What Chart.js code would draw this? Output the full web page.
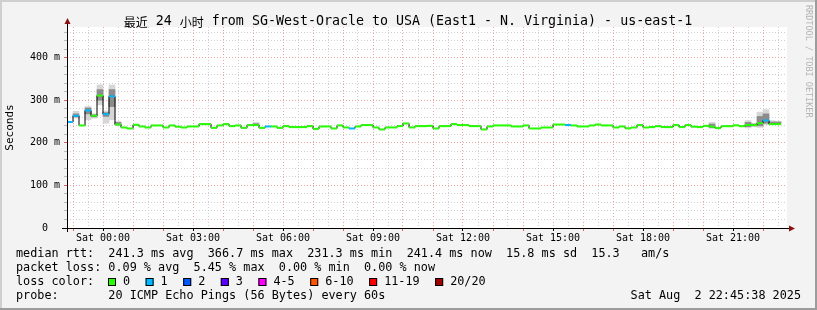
<!DOCTYPE html>
<html>
<head>
<meta charset="utf-8">
<script src="https://cdn.jsdelivr.net/npm/chart.js@4.4.0/dist/chart.umd.min.js"></script>
<style>
  html, body { margin: 0; padding: 0; background: #f3f3f3; }
  canvas { display: block; }
</style>
</head>
<body>
<canvas id="smoke" width="817" height="310"></canvas>
<script>
// time axis: hours relative to Sat 00:00, one median every 12 minutes
const startHour = -1.2;          // Fri 22:48
const stepHours = 0.2;

// median rtt per step (ms)
const medianMs = [
  249.0, 263.5, 240.8, 276.0, 263.5, 311.0, 267.4, 309.0, 243.0, 236.0,
  233.7, 242.4, 238.4, 236.0, 240.8, 240.8, 236.0, 240.8, 238.0, 236.0,
  238.4, 238.4, 243.9, 243.9, 235.3, 240.8, 243.9, 239.2, 240.8, 235.3,
  241.6, 241.6, 235.3, 238.4, 238.4, 235.3, 239.2, 236.9, 236.9, 236.9,
  239.2, 232.9, 238.4, 238.4, 233.7, 240.8, 236.1, 233.7, 238.4, 241.6,
  241.6, 236.1, 231.4, 236.1, 236.1, 239.2, 245.5, 236.1, 239.2, 239.2,
  240.0, 233.7, 239.2, 239.2, 243.9, 241.6, 241.6, 239.2, 239.2, 231.4,
  238.4, 240.8, 240.8, 240.8, 238.4, 238.4, 240.8, 233.7, 233.7, 236.0,
  236.0, 243.0, 243.0, 241.6, 240.8, 238.4, 238.4, 240.8, 243.0, 240.8,
  240.8, 236.0, 238.4, 234.0, 236.0, 241.6, 236.0, 236.9, 239.0, 236.9,
  236.9, 241.6, 236.9, 241.6, 238.0, 236.9, 240.0, 238.0, 234.5, 239.0,
  239.0, 241.0, 239.0, 242.0, 241.6, 246.0, 252.5, 243.9, 243.9
];
const spikeMs = 366.7;           // step just before the graph starts
const spikeLoss = 1;

// steps that lost pings (out of 20)
const lossSteps  = [0, 1, 3, 6, 7, 33, 47, 83, 116];
const lossCounts = [1, 1, 1, 1, 1, 1, 1, 1, 1];

// smoke (spread of the 20 pings) where it is visible
const smokeSteps = [1, 3, 4, 5, 6, 7, 8, 31, 107, 113, 114, 115, 116, 117, 118];
const smokeLo    = [258, 254, 258, 289, 246, 254, 241, 241, 234, 235, 238, 236, 243, 243, 245];
const smokeHi    = [274, 285, 268, 336, 275, 336, 250, 248, 248, 252, 246, 272, 278, 252, 250];
const coreLo     = [261, 268, 261, 300, 262, 285, 242, 241, 236, 238, 240, 240, 246, 244, 246];
const coreHi     = [268, 282, 266, 325, 271, 325, 248, 245, 244, 248, 244, 262, 268, 249, 249];

const lossLabels = ['0', '1', '2', '3', '4-5', '6-10', '11-19', '20/20'];
const lossColors = ['#26ff00', '#00b8ff', '#0059ff', '#5e00ff', '#ff00fe', '#ff5500', '#ff0000', '#a10000'];

const xLabelHours = [0, 3, 6, 9, 12, 15, 18, 21];
const xLabels = ['Sat 00:00', 'Sat 03:00', 'Sat 06:00', 'Sat 09:00', 'Sat 12:00', 'Sat 15:00', 'Sat 18:00', 'Sat 21:00'];
const yLabelValues = [0, 100, 200, 300, 400];
const yLabels = ['0  ', '100 m', '200 m', '300 m', '400 m'];
const yMax = 472;

const title = '最近 24 小时 from SG-West-Oracle to USA (East1 - N. Virginia) - us-east-1';
const statRows = [
  'median rtt:  241.3 ms avg  366.7 ms max  231.3 ms min  241.4 ms now  15.8 ms sd  15.3   am/s',
  'packet loss: 0.09 % avg  5.45 % max  0.00 % min  0.00 % now'
];
const probeText = 'probe:       20 ICMP Echo Pings (56 Bytes) every 60s';
const stampText = 'Sat Aug  2 22:45:38 2025';
const mono = '"DejaVu Sans Mono", monospace';

function bucket(n) {
  if (n <= 3) return n;
  if (n <= 5) return 4;
  if (n <= 10) return 5;
  if (n <= 19) return 6;
  return 7;
}
const lossOf = k => {
  if (k < 0) return spikeLoss;
  const i = lossSteps.indexOf(k);
  return i < 0 ? 0 : lossCounts[i];
};
const t = k => startHour + k * stepHours;

// black stepped median (gives the vertical joins)
const stepLine = [{ x: t(-1), y: spikeMs }];
medianMs.forEach((v, k) => stepLine.push({ x: t(k), y: v }));
stepLine.push({ x: t(medianMs.length), y: medianMs[medianMs.length - 1] });

// coloured horizontal pieces, one per step
const colorSteps = [-1, ...medianMs.map((v, k) => k)];
const colorLine = [];
colorSteps.forEach(k => {
  const v = k < 0 ? spikeMs : medianMs[k];
  colorLine.push({ x: t(k), y: v }, { x: t(k + 1), y: v }, { x: t(k + 1), y: null });
});

const smokeOuter = smokeSteps.map((k, i) => ({ x: t(k) + stepHours / 2, y: [smokeLo[i], smokeHi[i]] }));
const smokeInner = smokeSteps.map((k, i) => ({ x: t(k) + stepHours / 2, y: [coreLo[i], coreHi[i]] }));

const xGrid = [];
for (let i = -2; i <= 46; i++) if (i / 2 >= startHour && i / 2 <= startHour + 24) xGrid.push(i / 2);
const yGrid = [];
for (let v = 0; v < yMax; v += 20) yGrid.push(v);

const frame = {
  id: 'frame',
  beforeDraw(chart) {
    const { ctx, chartArea: a } = chart;
    ctx.save();
    ctx.fillStyle = '#f3f3f3';
    ctx.fillRect(0, 0, chart.width, chart.height);
    ctx.fillStyle = '#cfcfcf';
    ctx.fillRect(0, 0, chart.width, 2);
    ctx.fillRect(0, 0, 2, chart.height);
    ctx.fillStyle = '#9c9c9c';
    ctx.fillRect(0, chart.height - 2, chart.width, 2);
    ctx.fillRect(chart.width - 2, 0, 2, chart.height);
    ctx.fillStyle = '#ffffff';
    ctx.fillRect(a.left, a.top, a.right - a.left, a.bottom - a.top);
    ctx.restore();
  },
  afterDraw(chart) {
    const { ctx, chartArea: a } = chart;
    ctx.save();
    // axes with arrows
    ctx.strokeStyle = '#000';
    ctx.lineWidth = 1;
    ctx.beginPath();
    ctx.moveTo(a.left - 5, a.bottom + 0.5);
    ctx.lineTo(a.right + 3, a.bottom + 0.5);
    ctx.moveTo(a.left + 0.5, a.bottom + 4);
    ctx.lineTo(a.left + 0.5, a.top - 4);
    ctx.stroke();
    ctx.fillStyle = '#8b1010';
    ctx.beginPath();
    ctx.moveTo(a.right + 8, a.bottom + 0.5);
    ctx.lineTo(a.right + 2, a.bottom - 2.5);
    ctx.lineTo(a.right + 2, a.bottom + 3.5);
    ctx.fill();
    ctx.beginPath();
    ctx.moveTo(a.left + 0.5, a.top - 9);
    ctx.lineTo(a.left - 2.5, a.top - 3);
    ctx.lineTo(a.left + 3.5, a.top - 3);
    ctx.fill();

    // title, CJK runs in a CJK font
    ctx.fillStyle = '#000';
    ctx.textBaseline = 'middle';
    const runs = title.split(/([\u4e00-\u9fff]+)/).filter(Boolean);
    const fontFor = r => /[\u4e00-\u9fff]/.test(r) ? '12px "Noto Sans CJK SC"' : '13.3px ' + mono;
    let w = 0;
    runs.forEach(r => { ctx.font = fontFor(r); w += ctx.measureText(r).width; });
    let x = 408 - w / 2;
    ctx.textAlign = 'left';
    runs.forEach(r => { ctx.font = fontFor(r); ctx.fillText(r, x, 22); x += ctx.measureText(r).width; });

    // stats
    ctx.font = '11.8px ' + mono;
    statRows.forEach((row, i) => ctx.fillText(row, 16, 254 + i * 14));
    ctx.fillText('loss color:', 16, 282);
    let sx = 108;
    lossLabels.forEach((lab, i) => {
      ctx.fillStyle = lossColors[i];
      ctx.fillRect(sx, 278, 8, 8);
      ctx.strokeStyle = '#000';
      ctx.strokeRect(sx + 0.5, 278.5, 7, 7);
      ctx.fillStyle = '#000';
      ctx.fillText(lab, sx + 15, 282);
      sx += 15 + ctx.measureText(lab).width + 15.5;
    });
    ctx.fillText(probeText, 16, 296);
    ctx.textAlign = 'right';
    ctx.fillText(stampText, 801, 296);

    // rrdtool watermark
    ctx.translate(808, 5);
    ctx.rotate(Math.PI / 2);
    ctx.textAlign = 'left';
    ctx.font = '8.5px ' + mono;
    ctx.fillStyle = '#b4b4b4';
    ctx.fillText('RRDTOOL / TOBI OETIKER', 0, 0);
    ctx.restore();
  }
};

const majorGrid = '#eaa3a3';
const minorGrid = '#cfcfcf';

new Chart(document.getElementById('smoke'), {
  type: 'line',
  data: {
    datasets: [
      {
        type: 'bar', data: smokeOuter, backgroundColor: '#d6d6d6', borderWidth: 0,
        barPercentage: 1, categoryPercentage: 1, grouped: false, order: 4
      },
      {
        type: 'bar', data: smokeInner, backgroundColor: '#8c8c8c', borderWidth: 0,
        barPercentage: 1, categoryPercentage: 1, grouped: false, order: 3
      },
      {
        data: stepLine, stepped: true, borderColor: '#000', borderWidth: 1,
        pointRadius: 0, order: 2
      },
      {
        data: colorLine, spanGaps: false, borderWidth: 2, pointRadius: 0, order: 1,
        borderColor: lossColors[0],
        segment: {
          borderColor: ctx => lossColors[bucket(lossOf(colorSteps[Math.floor(ctx.p0DataIndex / 3)]))]
        }
      }
    ]
  },
  options: {
    responsive: false,
    animation: false,
    events: [],
    devicePixelRatio: 1,
    layout: { padding: { top: 27, right: 30, left: 0, bottom: 0 } },
    plugins: { legend: { display: false }, tooltip: { enabled: false } },
    scales: {
      x: {
        type: 'linear',
        min: startHour,
        max: startHour + 24,
        offset: false,
        afterFit: s => { s.height = 82; },
        afterBuildTicks: s => { s.ticks = xGrid.map(v => ({ value: v })); },
        grid: {
          offset: false,
          color: c => Number.isInteger(c.tick.value) ? majorGrid : minorGrid,
          tickColor: c => c.tick.value % 3 === 0 ? '#000' : (Number.isInteger(c.tick.value) ? '#e06060' : 'rgba(0,0,0,0)'),
          tickLength: 3
        },
        border: { display: false, dash: [1, 2] },
        ticks: {
          autoSkip: false,
          maxRotation: 0,
          padding: 1,
          color: '#000',
          font: { family: mono, size: 10 },
          callback: v => {
            const i = xLabelHours.indexOf(v);
            return i < 0 ? '' : xLabels[i];
          }
        }
      },
      y: {
        min: 0,
        max: yMax,
        afterFit: s => { s.width = 67; },
        afterBuildTicks: s => { s.ticks = yGrid.map(v => ({ value: v })); },
        grid: {
          color: c => c.tick.value % 100 === 0 ? majorGrid : minorGrid,
          tickColor: c => c.tick.value % 100 === 0 ? '#e06060' : '#bbbbbb',
          tickLength: 3
        },
        border: { display: false, dash: [1, 2] },
        title: {
          display: true,
          text: 'Seconds',
          color: '#000',
          font: { family: mono, size: 11 },
          padding: { top: 4, bottom: 0 }
        },
        ticks: {
          autoSkip: false,
          padding: 4,
          color: '#000',
          font: { family: mono, size: 10 },
          callback: v => {
            const i = yLabelValues.indexOf(v);
            return i < 0 ? '' : yLabels[i];
          }
        }
      }
    }
  },
  plugins: [frame]
});
</script>
</body>
</html>
